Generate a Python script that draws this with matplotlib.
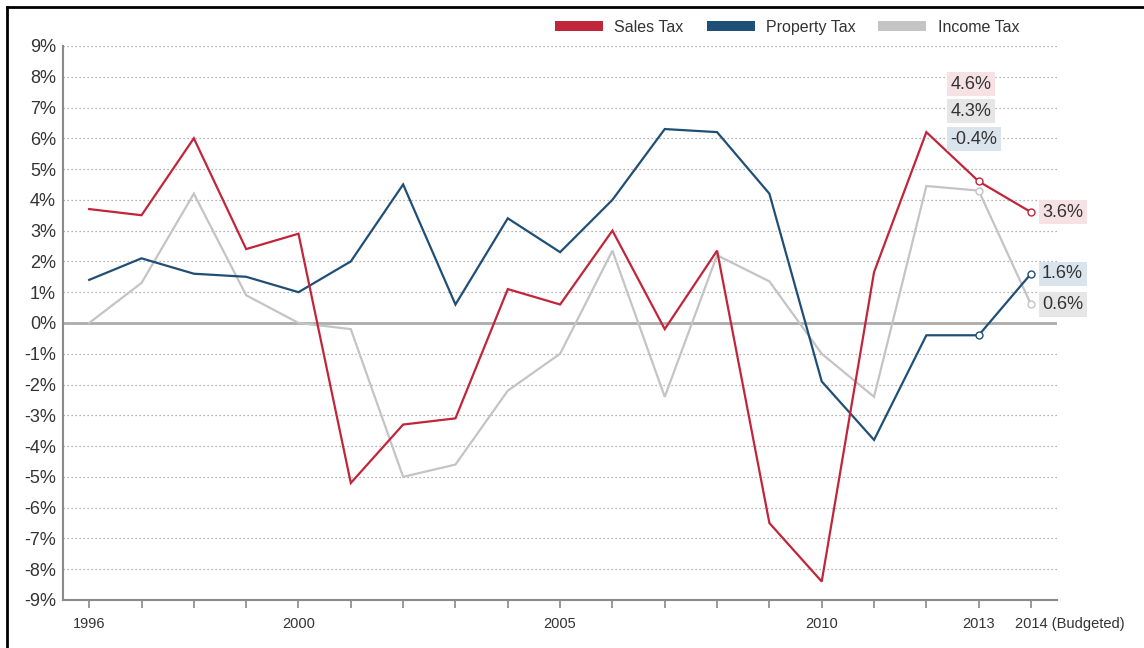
import matplotlib
matplotlib.use("Agg")
import matplotlib.pyplot as plt
import matplotlib.transforms as mtransforms
from matplotlib.lines import Line2D
from matplotlib.patches import Patch

plt.rcParams["font.family"] = ["Liberation Sans", "DejaVu Sans"]

# Year-over-year change in tax revenue, percent
years = list(range(1996, 2015))
sales_tax = [3.7, 3.5, 6.0, 2.4, 2.9, -5.2, -3.3, -3.1, 1.1, 0.6,
             3.0, -0.2, 2.35, -6.5, -8.4, 1.65, 6.2, 4.6, 3.6]
property_tax = [1.4, 2.1, 1.6, 1.5, 1.0, 2.0, 4.5, 0.6, 3.4, 2.3,
                4.0, 6.3, 6.2, 4.2, -1.9, -3.8, -0.4, -0.4, 1.6]
income_tax = [0.0, 1.3, 4.2, 0.9, 0.0, -0.2, -5.0, -4.6, -2.2, -1.0,
              2.35, -2.4, 2.2, 1.35, -1.0, -2.4, 4.45, 4.3, 0.6]

labelled_years = {1996: "1996", 2000: "2000", 2005: "2005", 2010: "2010",
                  2013: "2013", 2014: "2014 (Budgeted)"}
y_ticks = list(range(-9, 10))

RED = "#c1253a"
BLUE = "#1f4f76"
GREY = "#c4c4c4"
RED_BG = "#f6e2e4"
BLUE_BG = "#dae4ec"
GREY_BG = "#e6e6e6"
TEXT = "#333333"

series = [
    ("Sales Tax", sales_tax, RED, RED_BG),
    ("Property Tax", property_tax, BLUE, BLUE_BG),
    ("Income Tax", income_tax, GREY, GREY_BG),
]

fig = plt.figure(figsize=(11.44, 6.48), dpi=100)
ax = fig.add_axes([0.0551, 0.0741, 0.869, 0.855])

ax.set_xlim(1995.5, 2014.5)
ax.set_ylim(-9, 9)

# dotted grid, solid zero line
for v in y_ticks:
    if v != 0:
        ax.axhline(v, color="#9a9a9a", lw=0.9, ls=(0, (1, 2.2)), zorder=1)
ax.axhline(0, color="#ababab", lw=2.0, zorder=2)

# draw grey first so coloured lines sit on top
for name, vals, col, _ in reversed(series):
    ax.plot(years, vals, color=col, lw=1.6, zorder=3, solid_joinstyle="miter")
    ax.plot(years[-2:], vals[-2:], ls="none", marker="o", ms=5,
            mfc="white", mec=col, mew=1.0, zorder=4)

# end-of-series value labels for 2014
for name, vals, col, bg in series:
    ax.annotate(f"{vals[-1]:.1f}%", xy=(years[-1], vals[-1]),
                xytext=(8, 0), textcoords="offset points",
                ha="left", va="center", fontsize=13, color=TEXT,
                bbox=dict(boxstyle="square,pad=0.2", fc=bg, ec="none"),
                zorder=5)

# stacked value labels for 2013
stack_y = [7.76, 6.88, 5.97]
stack_order = [series[0], series[2], series[1]]
for sy, (name, vals, col, bg) in zip(stack_y, stack_order):
    ax.text(2012.46, sy, f"{vals[-2]:.1f}%", ha="left", va="center",
            fontsize=13, color=TEXT, zorder=5,
            bbox=dict(boxstyle="square,pad=0.2", fc=bg, ec="none"))

ax.set_yticks(y_ticks)
ax.set_yticklabels([f"{v}%" for v in y_ticks], fontsize=13, color=TEXT)
ax.set_xticks(years)
ax.set_xticklabels([labelled_years.get(y, "") for y in years],
                   fontsize=10.5, color=TEXT)
ax.tick_params(axis="y", length=0, pad=5)
ax.tick_params(axis="x", length=6, width=1.2, color="#888888", pad=6)

# keep "2014" under its tick and let "(Budgeted)" run to the right
last = ax.get_xticklabels()[-1]
last.set_horizontalalignment("left")
last.set_transform(last.get_transform() +
                   mtransforms.ScaledTranslation(-16 / 100, 0, fig.dpi_scale_trans))

for side in ("top", "right"):
    ax.spines[side].set_visible(False)
for side in ("left", "bottom"):
    ax.spines[side].set_color("#8a8a8a")
    ax.spines[side].set_linewidth(1.5)

handles = [Patch(facecolor=col, edgecolor="none", label=name)
           for name, _, col, _ in series]
fig.legend(handles=handles, loc="center", bbox_to_anchor=(0.688, 0.958),
           ncol=3, frameon=False, fontsize=11.5, handlelength=3.0,
           handleheight=0.65, handletextpad=0.7, columnspacing=1.45,
           labelcolor=TEXT)

# thin black frame along top and left edges
fig.add_artist(Line2D([0.006, 1.0], [0.989, 0.989], color="black", lw=2,
                      transform=fig.transFigure))
fig.add_artist(Line2D([0.006, 0.006], [0.0, 0.989], color="black", lw=2,
                      transform=fig.transFigure))

fig.savefig("out.png", dpi=100)
